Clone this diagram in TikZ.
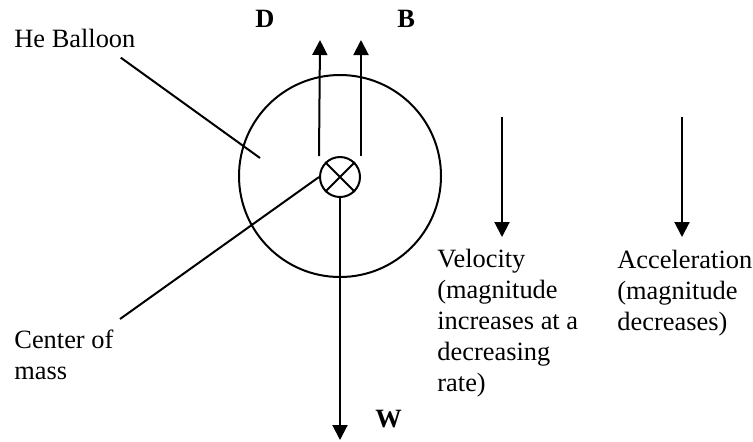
\documentclass[tikz,border=0pt]{standalone}
\usepackage{fontspec}
\setmainfont{Liberation Serif}
\usetikzlibrary{arrows.meta}

\begin{document}
\begin{tikzpicture}[
  x = 0.5pt, y = -0.5pt,
  arr/.style  = {-{Triangle[width=7.5pt, length=7.5pt]}, line width=1pt},
  ptr/.style  = {line width=1pt},
  ring/.style = {draw, circle, line width=1pt, inner sep=0pt},
  lbl/.style  = {inner sep=0pt, anchor=base west, align=left,
                 font=\fontsize{13.2}{15.4}\selectfont},
  vec/.style  = {lbl, font=\fontsize{13.2}{15.4}\selectfont\bfseries}
]
\useasboundingbox (0,0) rectangle (753,441);

% Balloon and center of mass
\node[ring, minimum size=101pt] (bal) at (340,176) {};
\node[ring, minimum size=20pt]  (cm)  at (340,177) {};
\draw[ptr] (cm.north west) -- (cm.south east);
\draw[ptr] (cm.north east) -- (cm.south west);

% Labels (multi-line ones placed by their last baseline)
\node[lbl] (he)  at (14,47)   {He Balloon};
\node[lbl] (com) at (14,379)  {Center of\\mass};
\node[vec] (d)   at (255,27)  {D};
\node[vec] (b)   at (397,27)  {B};
\node[vec] (w)   at (375,427) {W};
\node[lbl] (vel) at (437,391) {Velocity\\(magnitude\\increases at a\\decreasing\\rate)};
\node[lbl] (acc) at (617,330) {Acceleration\\(magnitude\\decreases)};

% Forces
\coordinate (dtip) at (320,40);
\coordinate (btip) at (361,40);
\coordinate (wtip) at (340,440);
\draw[arr] (cm.west |- cm.north) -- (dtip);
\draw[arr] (cm.east |- cm.north) -- (btip);
\draw[arr] (cm.south) -- (wtip);

% Motion
\coordinate (vtop) at (502,117);
\coordinate (vbot) at (502,237);
\coordinate (atop) at (682,117);
\coordinate (abot) at (682,237);
\draw[arr] (vtop) -- (vbot);
\draw[arr] (atop) -- (abot);

% Pointers
\coordinate (hep) at (260,158);
\coordinate (cmp) at (120,319);
\draw[ptr] ([shift={(-15,10)}]he.south east) -- (hep);
\draw[ptr] (cmp) -- (cm.west);
\end{tikzpicture}
\end{document}
